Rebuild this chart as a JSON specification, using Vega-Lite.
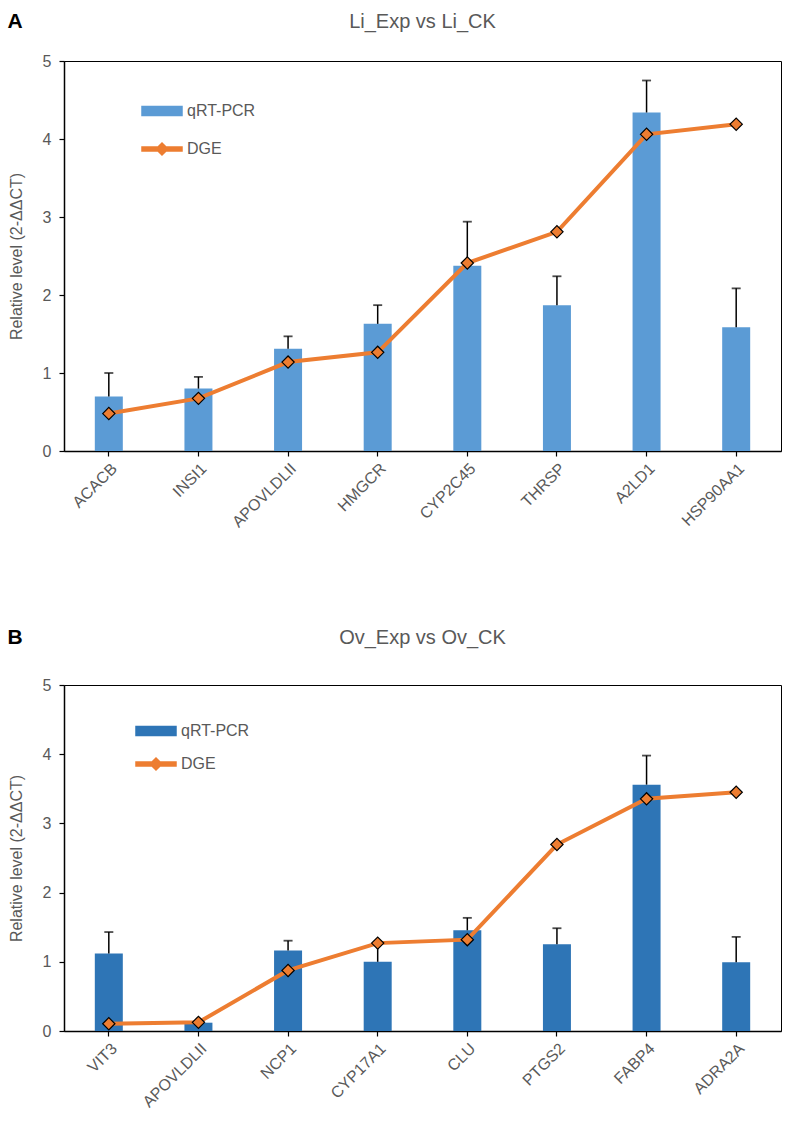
{
  "$schema": "https://vega.github.io/schema/vega-lite/v6.json",
  "padding": {"left": 7, "top": 10, "right": 6, "bottom": 0},
  "background": "white",
  "config": {
    "font": "Liberation Sans",
    "view": {"stroke": "black", "strokeWidth": 1},
    "axis": {"domainColor": "black", "domainWidth": 1.5, "tickColor": "black", "tickWidth": 1.2, "tickSize": 5, "labelColor": "#595959", "titleColor": "#595959", "grid": false, "labelFontSize": 16, "titleFontSize": 16, "titleFontWeight": "normal"},
    "legend": {"labelFontSize": 16, "labelColor": "#595959", "padding": 0}
  },
  "datasets": {
    "li": [
      {"gene": "ACACB", "qpcr": 0.70, "hi": 1.00, "dge": 0.48},
      {"gene": "INSI1", "qpcr": 0.80, "hi": 0.95, "dge": 0.675},
      {"gene": "APOVLDLII", "qpcr": 1.31, "hi": 1.47, "dge": 1.14},
      {"gene": "HMGCR", "qpcr": 1.63, "hi": 1.87, "dge": 1.265},
      {"gene": "CYP2C45", "qpcr": 2.375, "hi": 2.94, "dge": 2.41},
      {"gene": "THRSP", "qpcr": 1.87, "hi": 2.24, "dge": 2.81},
      {"gene": "A2LD1", "qpcr": 4.34, "hi": 4.75, "dge": 4.06},
      {"gene": "HSP90AA1", "qpcr": 1.585, "hi": 2.085, "dge": 4.19}
    ],
    "ov": [
      {"gene": "VIT3", "qpcr": 1.12, "hi": 1.43, "dge": 0.105},
      {"gene": "APOVLDLII", "qpcr": 0.12, "hi": null, "dge": 0.125},
      {"gene": "NCP1", "qpcr": 1.165, "hi": 1.305, "dge": 0.875},
      {"gene": "CYP17A1", "qpcr": 1.00, "hi": 1.265, "dge": 1.27},
      {"gene": "CLU", "qpcr": 1.455, "hi": 1.635, "dge": 1.32},
      {"gene": "PTGS2", "qpcr": 1.255, "hi": 1.485, "dge": 2.695},
      {"gene": "FABP4", "qpcr": 3.56, "hi": 3.98, "dge": 3.355},
      {"gene": "ADRA2A", "qpcr": 0.995, "hi": 1.36, "dge": 3.45}
    ]
  },
  "spacing": 95,
  "resolve": {"scale": {"color": "independent", "x": "independent", "y": "independent"}, "legend": {"color": "independent"}},
  "vconcat": [
    {
      "title": {"text": "A", "anchor": "start", "fontSize": 21, "fontWeight": "bold", "color": "black", "offset": 0, "dy": 20},
      "vconcat": [
        {
          "title": {"text": "Li_Exp vs Li_CK", "fontSize": 20, "color": "#595959", "fontWeight": "normal", "anchor": "middle", "offset": 21},
          "width": 717,
          "height": 390,
          "data": {"name": "li"},
          "encoding": {
            "x": {"field": "gene", "type": "nominal", "sort": null, "title": null, "scale": {"paddingInner": 0, "paddingOuter": 0}, "axis": {"labelAngle": -45, "labelFontSize": 16, "labelPadding": 4}}
          },
          "layer": [
            {
              "mark": {"type": "bar", "size": 28},
              "encoding": {
                "y": {"field": "qpcr", "type": "quantitative", "title": "Relative level (2-ΔΔCT)", "scale": {"domain": [0, 5], "nice": false}, "axis": {"values": [0, 1, 2, 3, 4, 5], "format": "d", "labelPadding": 8, "titlePadding": 18}},
                "color": {"datum": "qRT-PCR", "scale": {"domain": ["qRT-PCR", "DGE"], "range": ["#5B9BD5", "#ED7D31"]},
                  "legend": {"title": null, "orient": "none", "legendX": 77, "legendY": 29, "direction": "vertical", "symbolSize": 1600, "rowPadding": 9, "labelOffset": 4,
                    "encode": {"symbols": {"update": {
                      "shape": {"signal": "datum.value === 'DGE' ? 'M-1,-0.1H1V0.1H-1Z M-0.3,0L0,-0.3L0.3,0L0,0.3Z' : 'M-1,-0.22H1V0.22H-1Z'"},
                      "fill": {"signal": "datum.value === 'DGE' ? '#ED7D31' : '#5B9BD5'"},
                      "stroke": {"value": "transparent"},
                      "opacity": {"value": 1}, "fillOpacity": {"value": 1}}}}}}
              }
            },
            {
              "transform": [{"filter": {"field": "hi", "valid": true}}],
              "mark": {"type": "rule", "color": "black", "strokeWidth": 1.5},
              "encoding": {"y": {"field": "qpcr", "type": "quantitative", "title": "Relative level (2-ΔΔCT)"}, "y2": {"field": "hi"}}
            },
            {
              "transform": [{"filter": {"field": "hi", "valid": true}}],
              "mark": {"type": "tick", "color": "black", "thickness": 1.8, "size": 9},
              "encoding": {"y": {"field": "hi", "type": "quantitative", "title": "Relative level (2-ΔΔCT)"}}
            },
            {
              "mark": {"type": "line", "strokeWidth": 4},
              "encoding": {"y": {"field": "dge", "type": "quantitative", "title": "Relative level (2-ΔΔCT)"}, "color": {"datum": "DGE"}}
            },
            {
              "mark": {"type": "point", "shape": "diamond", "filled": true, "fill": "#ED7D31", "stroke": "black", "strokeWidth": 1.2, "size": 150, "opacity": 1},
              "encoding": {"y": {"field": "dge", "type": "quantitative", "title": "Relative level (2-ΔΔCT)"}}
            }
          ]
        }
      ]
    },
    {
      "title": {"text": "B", "anchor": "start", "fontSize": 21, "fontWeight": "bold", "color": "black", "offset": 0, "dy": 20},
      "vconcat": [
        {
          "title": {"text": "Ov_Exp vs Ov_CK", "fontSize": 20, "color": "#595959", "fontWeight": "normal", "anchor": "middle", "offset": 29},
          "width": 717,
          "height": 346,
          "data": {"name": "ov"},
          "encoding": {
            "x": {"field": "gene", "type": "nominal", "sort": null, "title": null, "scale": {"paddingInner": 0, "paddingOuter": 0}, "axis": {"labelAngle": -45, "labelFontSize": 16, "labelPadding": 4}}
          },
          "layer": [
            {
              "mark": {"type": "bar", "size": 28},
              "encoding": {
                "y": {"field": "qpcr", "type": "quantitative", "title": "Relative level (2-ΔΔCT)", "scale": {"domain": [0, 5], "nice": false}, "axis": {"values": [0, 1, 2, 3, 4, 5], "format": "d", "labelPadding": 8, "titlePadding": 18}},
                "color": {"datum": "qRT-PCR", "scale": {"domain": ["qRT-PCR", "DGE"], "range": ["#2E75B6", "#ED7D31"]},
                  "legend": {"title": null, "orient": "none", "legendX": 71, "legendY": 25, "direction": "vertical", "symbolSize": 1600, "rowPadding": 4, "labelOffset": 4,
                    "encode": {"symbols": {"update": {
                      "shape": {"signal": "datum.value === 'DGE' ? 'M-1,-0.1H1V0.1H-1Z M-0.3,0L0,-0.3L0.3,0L0,0.3Z' : 'M-1,-0.22H1V0.22H-1Z'"},
                      "fill": {"signal": "datum.value === 'DGE' ? '#ED7D31' : '#2E75B6'"},
                      "stroke": {"value": "transparent"},
                      "opacity": {"value": 1}, "fillOpacity": {"value": 1}}}}}}
              }
            },
            {
              "transform": [{"filter": {"field": "hi", "valid": true}}],
              "mark": {"type": "rule", "color": "black", "strokeWidth": 1.5},
              "encoding": {"y": {"field": "qpcr", "type": "quantitative", "title": "Relative level (2-ΔΔCT)"}, "y2": {"field": "hi"}}
            },
            {
              "transform": [{"filter": {"field": "hi", "valid": true}}],
              "mark": {"type": "tick", "color": "black", "thickness": 1.8, "size": 9},
              "encoding": {"y": {"field": "hi", "type": "quantitative", "title": "Relative level (2-ΔΔCT)"}}
            },
            {
              "mark": {"type": "line", "strokeWidth": 4},
              "encoding": {"y": {"field": "dge", "type": "quantitative", "title": "Relative level (2-ΔΔCT)"}, "color": {"datum": "DGE"}}
            },
            {
              "mark": {"type": "point", "shape": "diamond", "filled": true, "fill": "#ED7D31", "stroke": "black", "strokeWidth": 1.2, "size": 150, "opacity": 1},
              "encoding": {"y": {"field": "dge", "type": "quantitative", "title": "Relative level (2-ΔΔCT)"}}
            }
          ]
        }
      ]
    }
  ]
}
